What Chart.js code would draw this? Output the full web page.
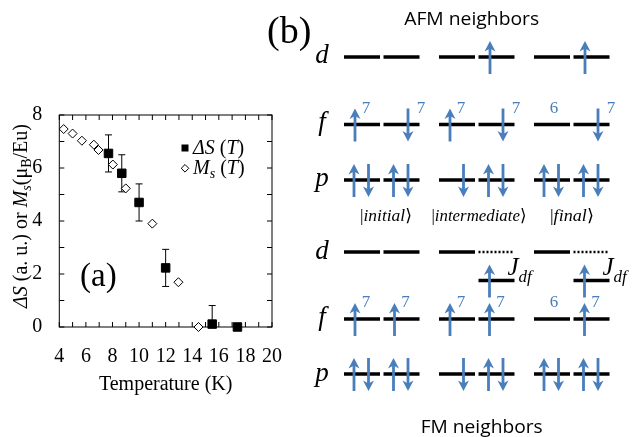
<!DOCTYPE html>
<html>
<head>
<meta charset="utf-8">
<script src="https://cdn.jsdelivr.net/npm/chart.js@4.4.0/dist/chart.umd.min.js"></script>
<style>
  html, body { margin: 0; padding: 0; background: #fff; }
  #wrap { position: relative; width: 636px; height: 437px; overflow: hidden; }
  #chartBox { position: absolute; left: 0; top: 0; width: 300px; height: 437px; }
  #overlay { position: absolute; left: 0; top: 0; pointer-events: none; }
  .serif { font-family: 'Liberation Serif', 'Times New Roman', serif; }
  .sans { font-family: 'Open Sans', 'Noto Sans', sans-serif; }
</style>
</head>
<body>
<div id="wrap">
  <div id="chartBox"><canvas id="chart"></canvas></div>
  <svg id="overlay" width="636" height="437" xmlns="http://www.w3.org/2000/svg"></svg>
</div>
<script>
// Panel (a) data
const temps = [7.7, 8.7, 10.0, 12.0, 15.5, 17.4];
const deltaS = [6.55, 5.8, 4.7, 2.23, 0.11, 0.0];
const deltaSErr = [0.7, 0.7, 0.7, 0.7, 0.7, 0];
const msTemps = [4.33, 5.0, 5.7, 6.6, 6.95, 8.03, 9.0, 11.0, 12.96, 14.47];
const msValues = [7.47, 7.3, 7.03, 6.88, 6.68, 6.13, 5.23, 3.9, 1.69, 0.0];
const xRange = [4, 20];
const yRange = [0, 8];

const serif = "'Liberation Serif', 'Times New Roman', serif";

// Box around the plot with inward ticks on all four sides
const framePlugin = {
    id: 'frame',
    beforeDatasetsDraw(chart) {
        const { ctx, chartArea: a, scales } = chart;
        ctx.save();
        ctx.strokeStyle = '#000';
        ctx.lineWidth = 1;
        ctx.strokeRect(a.left, a.top, a.right - a.left, a.bottom - a.top);
        ctx.beginPath();
        for (let v = xRange[0]; v <= xRange[1]; v++) {
            const px = scales.x.getPixelForValue(v);
            ctx.moveTo(px, a.bottom); ctx.lineTo(px, a.bottom - 5);
            ctx.moveTo(px, a.top); ctx.lineTo(px, a.top + 5);
        }
        for (let v = yRange[0]; v <= yRange[1]; v++) {
            const py = scales.y.getPixelForValue(v);
            ctx.moveTo(a.left, py); ctx.lineTo(a.left + 5, py);
            ctx.moveTo(a.right, py); ctx.lineTo(a.right - 5, py);
        }
        ctx.stroke();
        ctx.restore();
    }
};

// Error bars for the ΔS series
const errorBarPlugin = {
    id: 'errorBars',
    beforeDatasetsDraw(chart) {
        const { ctx, chartArea: a, scales } = chart;
        ctx.save();
        ctx.beginPath();
        ctx.rect(a.left, a.top, a.right - a.left, a.bottom - a.top);
        ctx.clip();
        ctx.strokeStyle = '#000';
        ctx.lineWidth = 1;
        ctx.beginPath();
        temps.forEach((t, i) => {
            if (!deltaSErr[i]) return;
            const px = scales.x.getPixelForValue(t);
            const hi = scales.y.getPixelForValue(deltaS[i] + deltaSErr[i]);
            const lo = scales.y.getPixelForValue(deltaS[i] - deltaSErr[i]);
            ctx.moveTo(px, hi); ctx.lineTo(px, lo);
            ctx.moveTo(px - 3.5, hi); ctx.lineTo(px + 3.5, hi);
            ctx.moveTo(px - 3.5, lo); ctx.lineTo(px + 3.5, lo);
        });
        ctx.stroke();
        ctx.restore();
    }
};

const ctx = document.getElementById('chart').getContext('2d');
new Chart(ctx, {
    type: 'scatter',
    data: {
        datasets: [{
            label: 'ΔS (T)',
            data: temps.map((t, i) => ({ x: t, y: deltaS[i] })),
            pointStyle: 'rect',
            pointRadius: 6,
            backgroundColor: '#000',
            borderColor: '#000',
            borderWidth: 1,
            clip: false
        }, {
            label: 'Ms (T)',
            data: msTemps.map((t, i) => ({ x: t, y: msValues[i] })),
            pointStyle: 'rectRot',
            pointRadius: 4.5,
            backgroundColor: '#fff',
            borderColor: '#000',
            borderWidth: 1,
            clip: false
        }]
    },
    options: {
        responsive: true,
        maintainAspectRatio: false,
        animation: false,
        layout: { padding: { top: 115, right: 25, bottom: 0, left: 0 } },
        plugins: { legend: { display: false }, tooltip: { enabled: false } },
        scales: {
            x: {
                type: 'linear',
                min: xRange[0],
                max: xRange[1],
                afterFit: s => { s.height = 110; },
                grid: { display: false, drawTicks: false },
                border: { display: false },
                ticks: {
                    stepSize: 1,
                    autoSkip: false,
                    maxRotation: 0,
                    padding: 18,
                    color: '#000',
                    font: { family: serif, size: 20 },
                    callback: v => (v % 2 === 0 ? v : '')
                },
                title: {
                    display: true,
                    text: 'Temperature (K)',
                    color: '#000',
                    font: { family: serif, size: 20 },
                    padding: { top: 0, bottom: 40 }
                }
            },
            y: {
                min: yRange[0],
                max: yRange[1],
                afterFit: s => { s.width = 59.3; },
                grid: { display: false, drawTicks: false },
                border: { display: false },
                ticks: {
                    stepSize: 1,
                    autoSkip: false,
                    padding: 17,
                    color: '#000',
                    font: { family: serif, size: 20 },
                    callback: v => (v % 2 === 0 ? v : '')
                }
            }
        }
    },
    plugins: [framePlugin, errorBarPlugin]
});

// ---- SVG overlay: axis title, legend, labels and the level diagram (b) ----
const NS = 'http://www.w3.org/2000/svg';
const svg = document.getElementById('overlay');
function add(tag, attrs, text, parent) {
    const e = document.createElementNS(NS, tag);
    for (const k in attrs) e.setAttribute(k, attrs[k]);
    if (text != null) e.textContent = text;
    (parent || svg).appendChild(e);
    return e;
}

// y-axis title
const yt = add('text', { x: 0, y: 0, class: 'serif', 'font-size': 20, 'text-anchor': 'middle',
    transform: 'translate(27,216) rotate(-90)' });
add('tspan', { 'font-style': 'italic' }, 'ΔS', yt);
add('tspan', {}, ' (a. u.) or ', yt);
add('tspan', { 'font-style': 'italic' }, 'M', yt);
add('tspan', { 'font-style': 'italic', 'font-size': 14, dy: 4 }, 's', yt);
add('tspan', { dy: -4 }, '(μ', yt);
add('tspan', { 'font-size': 14, dy: 4 }, 'B', yt);
add('tspan', { dy: -4 }, '/Eu)', yt);

// legend
add('rect', { x: 181.5, y: 144.5, width: 7, height: 7, fill: '#000' });
add('path', { d: 'M185 164.5 L188.8 168.3 L185 172.1 L181.2 168.3 Z', fill: '#fff', stroke: '#000', 'stroke-width': 1 });
const l1 = add('text', { x: 193, y: 154, class: 'serif', 'font-size': 20 });
add('tspan', { 'font-style': 'italic' }, 'ΔS', l1);
add('tspan', {}, ' (', l1);
add('tspan', { 'font-style': 'italic' }, 'T', l1);
add('tspan', {}, ')', l1);
const l2 = add('text', { x: 193, y: 174, class: 'serif', 'font-size': 20 });
add('tspan', { 'font-style': 'italic' }, 'M', l2);
add('tspan', { 'font-style': 'italic', 'font-size': 14, dy: 4 }, 's', l2);
add('tspan', { dy: -4 }, ' (', l2);
add('tspan', { 'font-style': 'italic' }, 'T', l2);
add('tspan', {}, ')', l2);

add('text', { x: 80, y: 286, class: 'serif', 'font-size': 33 }, '(a)');
add('text', { x: 267, y: 43, class: 'serif', 'font-size': 38 }, '(b)');

// diagram (b)
const blue = '#4a7ebb';
const groupX = [344, 439, 534];
const segStep = 39.5, segW = 36;

function level(x, y, dotted) {
    const attrs = { x1: x, y1: y, x2: x + segW, y2: y, stroke: '#000', 'stroke-width': dotted ? 2.5 : 3.5 };
    if (dotted) attrs['stroke-dasharray'] = '2 2';
    add('line', attrs);
}
function arrow(x, lineY, up) {
    const top = lineY - 16, bot = lineY + 17;
    const tip = up ? top : bot, base = up ? bot : top, s = up ? 1 : -1;
    add('line', { x1: x, y1: base, x2: x, y2: tip + s * 6, stroke: blue, 'stroke-width': 2.8 });
    add('path', { d: `M${x} ${tip} L${x - 5.5} ${tip + s * 10.5} L${x} ${tip + s * 7.5} L${x + 5.5} ${tip + s * 10.5} Z`, fill: blue });
}
function orbital(letter, x, baseline) {
    add('text', { x: x, y: baseline, 'font-family': "'Liberation Serif', serif", 'font-size': 27,
        'font-style': 'italic', 'text-anchor': 'middle' }, letter);
}

function panel(cfg) {
    orbital('d', 322, cfg.dBase);
    orbital('f', 322, cfg.fBase);
    orbital('p', 322, cfg.pBase);
    groupX.forEach((gx, g) => {
        [0, 1].forEach(k => {
            const sx = gx + k * segStep;
            const dk = cfg.d[g][k];
            level(sx, cfg.dY, dk === 'x');
            if (dk === 'u') arrow(sx + 11.5, cfg.dY, true);
            if (dk === 'x') {
                level(sx, cfg.shiftY, false);
                arrow(sx + 11, cfg.shiftY, true);
                const j = add('text', { x: sx + 29, y: cfg.shiftY - 6, class: 'serif', 'font-size': 25, 'font-style': 'italic' });
                add('tspan', {}, 'J', j);
                add('tspan', { 'font-size': 17, dy: 7 }, 'df', j);
            }
            level(sx, cfg.fY, false);
            const fk = cfg.f[g][k];
            const lab = cfg.fLab[g][k];
            if (fk === 'u') arrow(sx + 11, cfg.fY, true);
            if (fk === 'd') arrow(sx + 24.5, cfg.fY, false);
            let lx = sx + 20;
            if (fk === 'u') lx = sx + 22;
            if (fk === 'd') lx = sx + 37.5;
            add('text', { x: lx, y: cfg.fY - 12, class: 'serif', 'font-size': 17, fill: blue, 'text-anchor': 'middle' }, lab);
            level(sx, cfg.pY, false);
            const pk = cfg.p[g][k];
            if (pk.includes('u')) arrow(sx + 10, cfg.pY, true);
            if (pk.includes('d')) arrow(sx + 24.5, cfg.pY, false);
        });
    });
}

const afmD = [['', ''], ['', 'u'], ['', 'u']];
const afmF = [['u', 'd'], ['u', 'd'], ['', 'd']];
const fmD = [['', ''], ['', 'x'], ['', 'x']];
const fmF = [['u', 'u'], ['u', 'u'], ['', 'u']];
const fLabels = [['7', '7'], ['7', '7'], ['6', '7']];
const pSpins = [['ud', 'ud'], ['d', 'ud'], ['ud', 'ud']];

panel({ dY: 57, fY: 124.5, pY: 180, dBase: 63, fBase: 130, pBase: 186,
    d: afmD, f: afmF, fLab: fLabels, p: pSpins });
panel({ dY: 252, shiftY: 280.5, fY: 319, pY: 374, dBase: 259, fBase: 325, pBase: 381,
    d: fmD, f: fmF, fLab: fLabels, p: pSpins });

add('text', { x: 471.7, y: 25, class: 'sans', 'font-size': 18.5, 'text-anchor': 'middle',
    textLength: 135, lengthAdjust: 'spacingAndGlyphs' }, 'AFM neighbors');
add('text', { x: 481.7, y: 432.5, class: 'sans', 'font-size': 18.5, 'text-anchor': 'middle',
    textLength: 122, lengthAdjust: 'spacingAndGlyphs' }, 'FM neighbors');

[['initial', 386, 52], ['intermediate', 479, 95], ['final', 572, 44]].forEach(([w, cx, len]) => {
    const t = add('text', { x: cx, y: 221, class: 'serif', 'font-size': 17, 'text-anchor': 'middle',
        textLength: len, lengthAdjust: 'spacingAndGlyphs' });
    add('tspan', {}, '|', t);
    add('tspan', { 'font-style': 'italic' }, w, t);
    add('tspan', { 'font-family': "'DejaVu Serif', serif" }, '⟩', t);
});
</script>
</body>
</html>
